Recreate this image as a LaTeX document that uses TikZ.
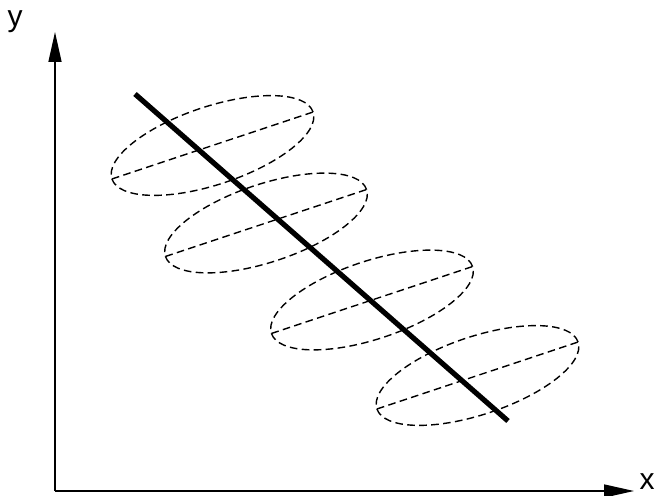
\documentclass[tikz,border=0pt]{standalone}
\usepackage{fontspec}
\setmainfont{Liberation Sans}
\usetikzlibrary{arrows.meta,calc}

\begin{document}
\begin{tikzpicture}[
        x=0.5pt, y=-0.5pt,
        axis/.style={line width=0.75pt, -{Triangle[length=15pt,width=6.5pt]}},
        trend/.style={line width=2.6pt},
        cloud/.style={line width=0.7pt, dash pattern=on 3.8pt off 2.2pt},
        lbl/.style={inner sep=0pt, font=\fontsize{15}{18}\selectfont}
    ]
        \useasboundingbox (0,0) rectangle (658,496);

        % Axes
        \coordinate (origin) at (55,491);
        \coordinate (ytip) at (55,32);
        \coordinate (xtip) at (634,491);
        \draw[axis] (origin) -- (ytip);
        \draw[axis] (origin) -- (xtip);
        \node[lbl] (ylabel) at (15,22) {y};
        \node[lbl] (xlabel) at (647,482) {x};

        % Ellipses with their major axes
        \foreach \cx/\cy [count=\i] in {212.5/145.5, 266/223, 372/300, 477.5/375.5} {
            \coordinate (c\i) at (\cx,\cy);
            \draw[cloud, rotate around={18.4:(c\i)}] (c\i) ellipse [x radius=53pt, y radius=19.5pt];
            \draw[cloud] ($(c\i)+(198.4:53pt)$) -- ($(c\i)+(18.4:53pt)$);
        }

        % Regression line
        \coordinate (start) at (135,94);
        \coordinate (stop) at (508,421);
        \draw[trend] (start) -- (stop);
    \end{tikzpicture}
\end{document}
